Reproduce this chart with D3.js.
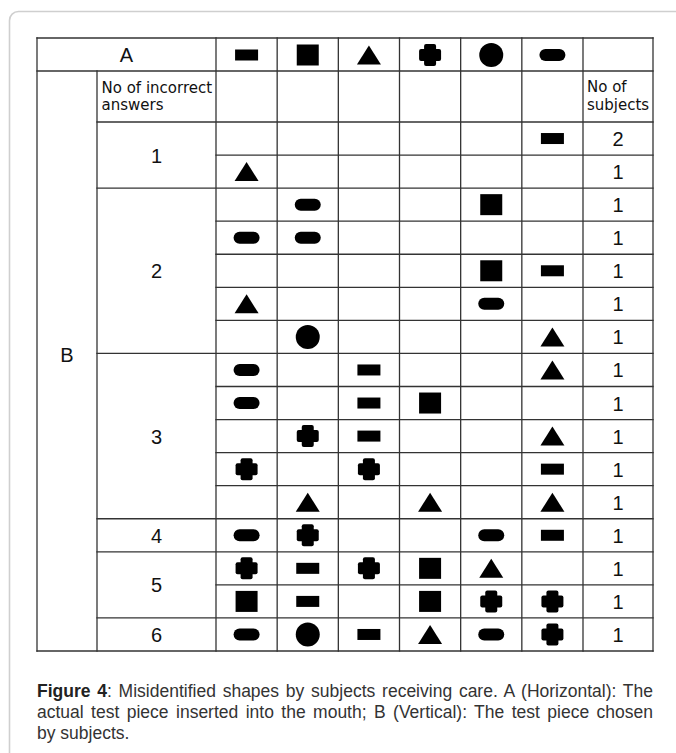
<!DOCTYPE html>
<html>
<head>
<meta charset="utf-8">
<script src="https://cdn.jsdelivr.net/npm/d3@7"></script>
<style>
  body { margin: 0; background: #fff; }
</style>
</head>
<body>
<script>
// A: pieza real (columnas)
var shapes = ["rect", "square", "triangle", "cross", "circle", "pill"]

// grupos: numero de respuestas incorrectas y filas de cada uno
var groups = [1, 2, 3, 4, 5, 6]
var groupRows = [2, 5, 5, 1, 2, 1]

// B: pieza elegida, una fila por sujeto/s, una entrada por columna A
var chosen = [
  [null, null, null, null, null, "rect"],
  ["triangle", null, null, null, null, null],
  [null, "pill", null, null, "square", null],
  ["pill", "pill", null, null, null, null],
  [null, null, null, null, "square", "rect"],
  ["triangle", null, null, null, "pill", null],
  [null, "circle", null, null, null, "triangle"],
  ["pill", null, "rect", null, null, "triangle"],
  ["pill", null, "rect", "square", null, null],
  [null, "cross", "rect", null, null, "triangle"],
  ["cross", null, "cross", null, null, "rect"],
  [null, "triangle", null, "triangle", null, "triangle"],
  ["pill", "cross", null, null, "pill", "rect"],
  ["cross", "rect", "cross", "square", "triangle", null],
  ["square", "rect", null, "square", "cross", "cross"],
  ["pill", "circle", "rect", "triangle", "pill", "cross"]
]

var subjects = [2, 1, 1, 1, 1, 1, 1, 1, 1, 1, 1, 1, 1, 1, 1, 1]

var captionLines = [
  [["Figure 4", true], [": Misidentified shapes by subjects receiving care. A (Horizontal): The", false]],
  [["actual test piece inserted into the mouth; B (Vertical): The test piece chosen", false]],
  [["by subjects.", false]]
]

// LAYOUT
var W = 676, H = 753
var xL = 37, xB = 97, xN = 216, xS = 583, xR = 653
var yT = 38, yH = 71, yS = 122, yE = 651
var line = "#333"

var svg = d3.select("body").append("svg")
  .attr("width", W).attr("height", H)

// tarjeta
svg.append("rect")
  .attr("x", 9.5).attr("y", 11.5)
  .attr("width", 720).attr("height", 800)
  .attr("rx", 9)
  .attr("fill", "#fff")
  .attr("stroke", "#cfcfcf")
  .attr("stroke-width", 1.6)

// ESCALAS
var x = d3.scaleBand().domain(d3.range(shapes.length)).range([xN, xS])
var y = d3.scaleBand().domain(d3.range(chosen.length)).range([yS, yE])

var starts = [0].concat(Array.from(d3.cumsum(groupRows)))

// LINEAS DE LA TABLA
var segs = []
segs.push([xL, yT, xR, yT], [xL, yH, xR, yH], [xB, yS, xR, yS], [xL, yE, xR, yE])
segs.push([xL, yT, xL, yE], [xB, yH, xB, yE], [xR, yT, xR, yE])
d3.range(shapes.length + 1).forEach(function (i) {
  var xx = i < shapes.length ? x(i) : xS
  segs.push([xx, yT, xx, yE])
})
d3.range(1, chosen.length).forEach(function (r) {
  var isGroup = starts.indexOf(r) >= 0
  segs.push([isGroup ? xB : xN, y(r), xR, y(r)])
})

svg.append("g")
  .selectAll("line")
  .data(segs)
  .enter()
  .append("line")
  .attr("x1", d => d[0]).attr("y1", d => d[1])
  .attr("x2", d => d[2]).attr("y2", d => d[3])
  .attr("stroke", line)
  .attr("stroke-width", 1.3)
  .attr("stroke-linecap", "square")

// FIGURAS
function drawShape(g, type, cx, cy) {
  if (type == "rect") {
    g.append("rect").attr("x", cx - 11.5).attr("y", cy - 5.5).attr("width", 23).attr("height", 11)
  } else if (type == "square") {
    g.append("rect").attr("x", cx - 11).attr("y", cy - 10.5).attr("width", 22).attr("height", 21)
  } else if (type == "triangle") {
    g.append("path").attr("d", "M" + (cx - 12) + "," + (cy + 9.5) + "L" + (cx + 12) + "," + (cy + 9.5) + "L" + cx + "," + (cy - 9.5) + "Z")
  } else if (type == "cross") {
    g.append("rect").attr("x", cx - 11).attr("y", cy - 6).attr("width", 22).attr("height", 12).attr("rx", 2)
    g.append("rect").attr("x", cx - 6).attr("y", cy - 11).attr("width", 12).attr("height", 22).attr("rx", 2)
  } else if (type == "circle") {
    g.append("circle").attr("cx", cx).attr("cy", cy).attr("r", 12)
  } else if (type == "pill") {
    g.append("rect").attr("x", cx - 13).attr("y", cy - 6).attr("width", 26).attr("height", 12).attr("rx", 6)
  }
}

var marks = svg.append("g").attr("fill", "#000")

shapes.forEach(function (s, i) {
  drawShape(marks, s, x(i) + x.bandwidth() / 2, (yT + yH) / 2 + 0.5)
})

chosen.forEach(function (row, r) {
  row.forEach(function (s, i) {
    if (s) drawShape(marks, s, x(i) + x.bandwidth() / 2, y(r) + y.bandwidth() / 2)
  })
})

// TEXTOS
var big = { "font-family": "'Liberation Sans', Arial, sans-serif", "font-size": "20px", "fill": "#111" }
function bigText(t, cx, base) {
  var el = svg.append("text").attr("x", cx).attr("y", base).attr("text-anchor", "middle").text(t)
  for (var k in big) el.attr(k, big[k])
  return el
}

bigText("A", (xL + xN) / 2, 62)
bigText("B", (xL + xB) / 2, 362)

groups.forEach(function (gN, i) {
  var a = y(starts[i]), b = y(starts[i + 1] - 1) + y.bandwidth()
  bigText(gN, (xB + xN) / 2, (a + b) / 2 + 7.5)
})

subjects.forEach(function (n, r) {
  bigText(n, (xS + xR) / 2, y(r) + y.bandwidth() / 2 + 7.5)
})

var small = svg.append("g")
  .attr("font-family", "'DejaVu Sans', sans-serif")
  .attr("font-size", "15px")
  .attr("fill", "#111")
small.append("text").attr("x", xB + 4.5).attr("y", 92.5).text("No of incorrect")
small.append("text").attr("x", xB + 4.5).attr("y", 109.5).text("answers")
small.append("text").attr("x", xS + 4).attr("y", 91.5).text("No of")
small.append("text").attr("x", xS + 4).attr("y", 109.5).text("subjects")

// PIE DE FIGURA (justificado)
var sx = 1.0
var capBase = [697, 718, 739]
var capWidth = xR - xL
captionLines.forEach(function (parts, i) {
  var g = svg.append("g").attr("transform", "translate(" + xL + "," + capBase[i] + ") scale(" + sx + ",1)")
  var t = g.append("text")
    .attr("x", 0).attr("y", 0)
    .attr("font-family", "'Liberation Sans', Arial, sans-serif")
    .attr("font-size", "17.5px")
    .attr("fill", "#333")
  parts.forEach(function (p) {
    t.append("tspan").attr("font-weight", p[1] ? "bold" : "normal").attr("fill", p[1] ? "#222" : "#333").text(p[0])
  })
  if (i < captionLines.length - 1) {
    var full = parts.map(p => p[0]).join("")
    var nSp = full.split(" ").length - 1
    var w = t.node().getComputedTextLength()
    t.attr("word-spacing", (capWidth / sx - w) / nSp)
  }
})
</script>
</body>
</html>
